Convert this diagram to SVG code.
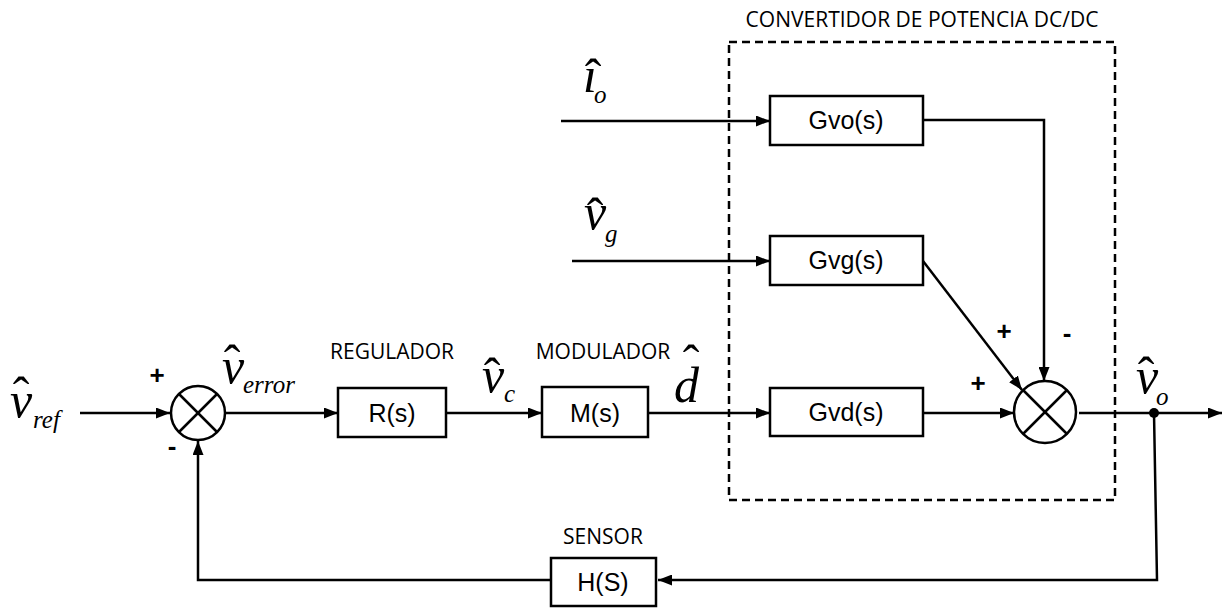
<svg xmlns="http://www.w3.org/2000/svg" width="1227" height="608" viewBox="0 0 1227 608">
<defs>
<marker id="arr" viewBox="0 0 14 11" refX="14" refY="5.5" markerWidth="14" markerHeight="11" markerUnits="userSpaceOnUse" orient="auto">
<path d="M0,0 L14,5.5 L0,11 Z" fill="#000"/>
</marker>
</defs>
<style>
.ln{stroke:#000;stroke-width:2.5;fill:none}
.bx{stroke:#000;stroke-width:2.5;fill:#fff}
.bt{font-family:"Liberation Sans",Arial,sans-serif;font-size:25px;text-anchor:middle}
.lb{font-family:"Open Sans","Noto Sans",sans-serif;font-size:21px;text-anchor:middle}
.v{font-family:"Liberation Serif","Times New Roman",serif;font-style:italic;font-size:50px}
.s{font-family:"Liberation Serif","Times New Roman",serif;font-style:italic;font-size:25px}
.h{font-family:"Liberation Serif","Times New Roman",serif;font-size:50px;text-anchor:middle}
.sg{font-family:"Liberation Sans",Arial,sans-serif;font-size:26px;font-weight:bold;text-anchor:middle}
</style>
<rect x="729" y="42" width="386" height="458" fill="none" stroke="#000" stroke-width="2.5" stroke-dasharray="8,5"/>
<text class="lb" x="922" y="27">CONVERTIDOR DE POTENCIA DC/DC</text>
<g id="connectors">
<line class="ln" x1="80" y1="413" x2="170" y2="413" marker-end="url(#arr)"/>
<line class="ln" x1="226" y1="413" x2="338" y2="413" marker-end="url(#arr)"/>
<line class="ln" x1="446" y1="413" x2="542" y2="413" marker-end="url(#arr)"/>
<line class="ln" x1="648" y1="413" x2="770" y2="413" marker-end="url(#arr)"/>
<line class="ln" x1="924" y1="413" x2="1014" y2="413" marker-end="url(#arr)"/>
<line class="ln" x1="561" y1="121" x2="770" y2="121" marker-end="url(#arr)"/>
<line class="ln" x1="572" y1="261" x2="770" y2="261" marker-end="url(#arr)"/>
<polyline class="ln" points="923,120 1044,120 1044,381" marker-end="url(#arr)"/>
<line class="ln" x1="923" y1="261" x2="1022" y2="390" marker-end="url(#arr)"/>
<line class="ln" x1="1079" y1="413" x2="1222" y2="413" marker-end="url(#arr)"/>
<polyline class="ln" points="1154,413 1157,580 658,580" marker-end="url(#arr)"/>
<polyline class="ln" points="551,580 198,580 198,441" marker-end="url(#arr)"/>
<circle cx="1154" cy="413" r="5" fill="#000"/>
</g>
<g id="sum1">
<circle class="bx" cx="198" cy="413" r="27"/>
<line class="ln" x1="179" y1="394" x2="217" y2="432"/>
<line class="ln" x1="217" y1="394" x2="179" y2="432"/>
</g>
<g id="sum2">
<circle class="bx" cx="1045" cy="412" r="31"/>
<line class="ln" x1="1023" y1="390" x2="1067" y2="434"/>
<line class="ln" x1="1067" y1="390" x2="1023" y2="434"/>
</g>
<g id="R">
<rect class="bx" x="338" y="388" width="108" height="49"/>
<text class="bt" x="392" y="422">R(s)</text>
</g>
<g id="M">
<rect class="bx" x="542" y="387" width="106" height="50"/>
<text class="bt" x="595" y="422">M(s)</text>
</g>
<g id="Gvo">
<rect class="bx" x="770" y="96" width="153" height="49"/>
<text class="bt" x="846" y="129">Gvo(s)</text>
</g>
<g id="Gvg">
<rect class="bx" x="770" y="236" width="153" height="49"/>
<text class="bt" x="846" y="269">Gvg(s)</text>
</g>
<g id="Gvd">
<rect class="bx" x="770" y="388" width="153" height="48"/>
<text class="bt" x="846" y="421">Gvd(s)</text>
</g>
<g id="H">
<rect class="bx" x="551" y="558" width="105" height="48"/>
<text class="bt" x="603" y="591">H(S)</text>
</g>
<text class="lb" x="392" y="359">REGULADOR</text>
<text class="lb" x="603" y="359">MODULADOR</text>
<text class="lb" x="603" y="544">SENSOR</text>
<g id="labels">
<text class="v" x="10" y="417">v</text><text class="h" x="21" y="412">ˆ</text><text class="s" x="33" y="428">ref</text>
<text class="v" x="222" y="383">v</text><text class="h" x="232" y="380">ˆ</text><text class="s" x="243" y="393">error</text>
<text class="v" x="482" y="392">v</text><text class="h" x="492" y="393">ˆ</text><text class="s" x="504" y="402">c</text>
<text class="v" x="674" y="402">d</text><text class="h" x="691" y="380">ˆ</text>
<text class="v" x="1136" y="393">v</text><text class="h" x="1146" y="392">ˆ</text><text class="s" x="1156" y="405">o</text>
<text class="v" x="584" y="229">v</text><text class="h" x="595" y="233">ˆ</text><text class="s" x="605" y="242">g</text>
<text class="v" x="583" y="92">ı</text><text class="h" x="593" y="94">ˆ</text><text class="s" x="594" y="103">o</text>
</g>
<g id="signs">
<text class="sg" x="157" y="384">+</text>
<text class="sg" x="172" y="455">-</text>
<text class="sg" x="1004" y="340">+</text>
<text class="sg" x="1067" y="342">-</text>
<text class="sg" x="978" y="392">+</text>
</g>
</svg>
